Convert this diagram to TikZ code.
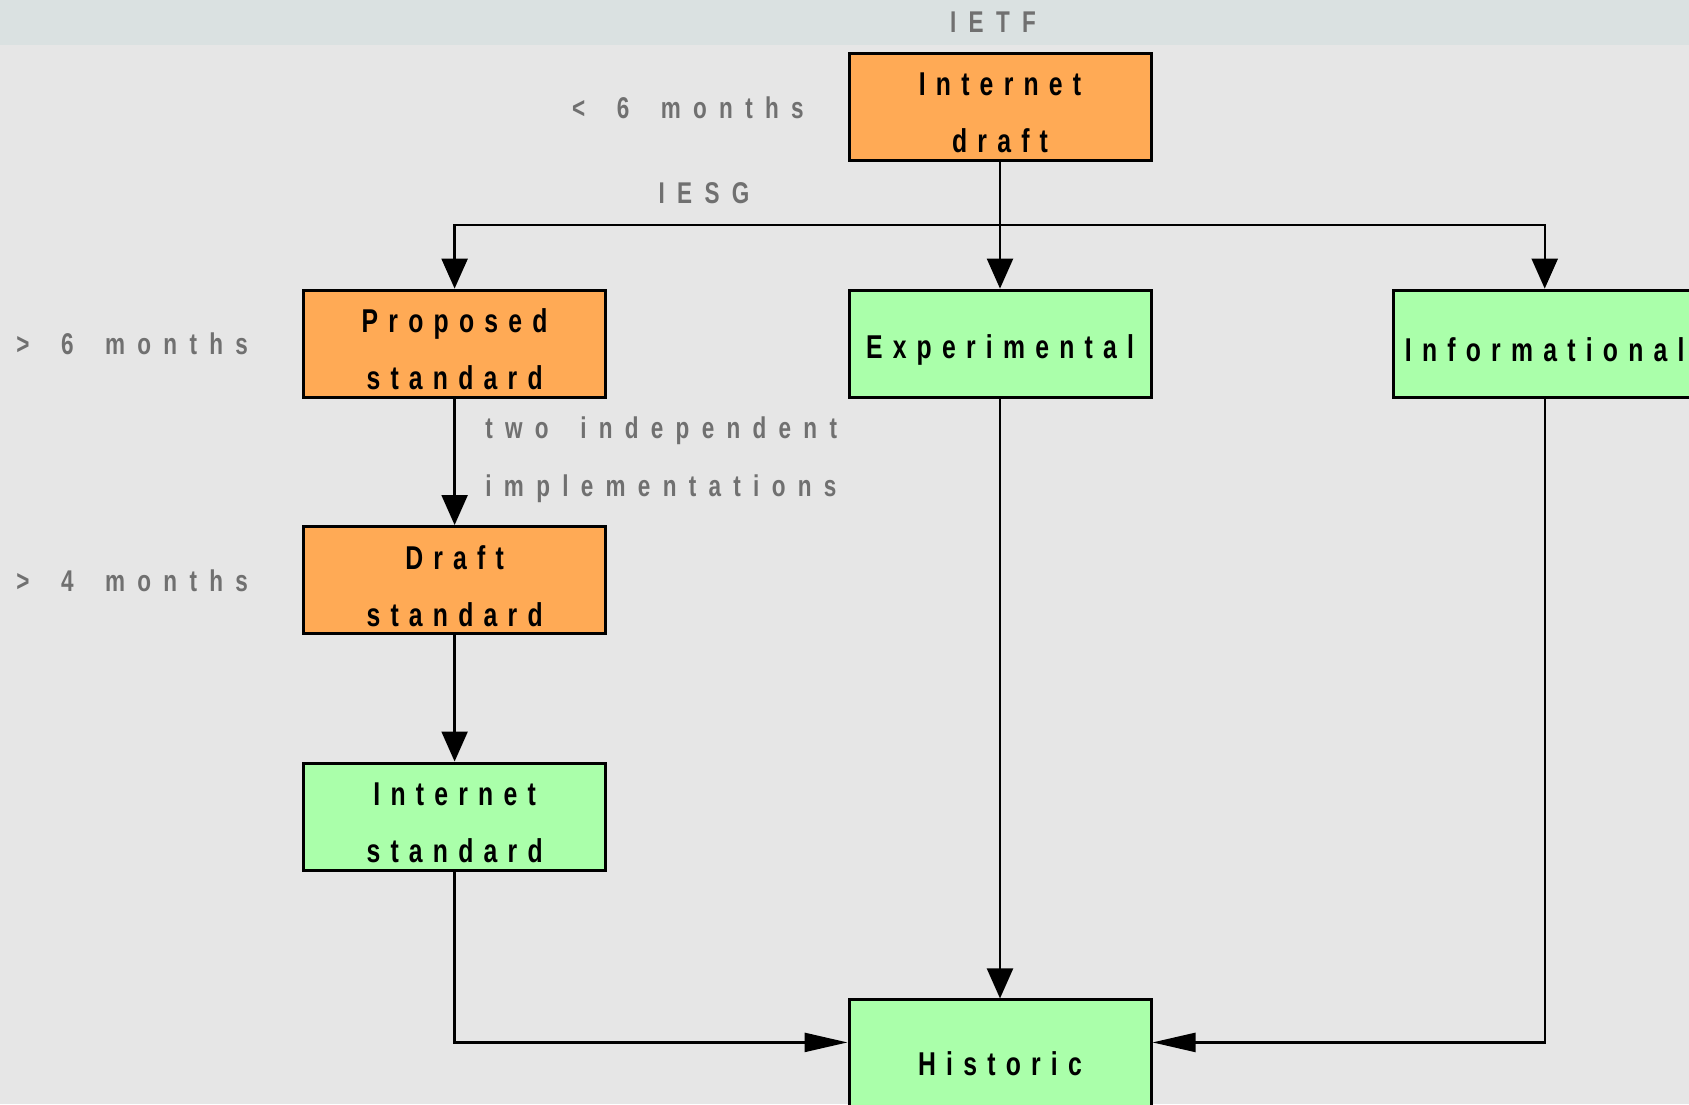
\documentclass[tikz,border=0pt]{standalone}
\usepackage{fontspec}
\newfontfamily\boxfont[FakeStretch=0.75,LetterSpace=31]{Liberation Sans}
\newfontfamily\notefont[FakeStretch=0.75,LetterSpace=41,WordSpace=1.7]{Liberation Sans}
\usetikzlibrary{arrows.meta}

\definecolor{bandgray}{HTML}{DAE1E1}
\definecolor{bggray}{HTML}{E6E6E6}
\definecolor{stdorange}{HTML}{FFAA55}
\definecolor{stdgreen}{HTML}{AAFFAA}
\definecolor{notegray}{HTML}{707070}

\tikzset{
    stdbox/.style={draw=black, line width=1.5pt, minimum width=151pt, minimum height=53.5pt, inner sep=0pt},
    boxtext/.style={inner sep=0pt, align=center, yshift=-3pt, font={\boxfont\bfseries\fontsize{16.5}{28.5}\selectfont}},
    note/.style={text=notegray, inner sep=0pt, font={\notefont\bfseries\fontsize{15}{29}\selectfont}},
    varrow/.style={line width=1.2pt, -{Triangle[length=15pt,width=13pt]}},
    harrow/.style={line width=1.2pt, -{Triangle[length=21.5pt,width=9.5pt]}}
}

\begin{document}
\begin{tikzpicture}[x=0.5pt, y=-0.5pt]
        \useasboundingbox (0,0) rectangle (1689,1104);
        \clip (0,0) rectangle (1689,1104);
        \fill[bggray] (0,0) rectangle (1689,1104);
        \fill[bandgray] (0,0) rectangle (1689,45);

        % standards track boxes
        \node[stdbox, fill=stdorange, label={[boxtext]center:{Internet\\draft}}] (idraft) at (1000,107) {};
        \node[stdbox, fill=stdorange, label={[boxtext]center:{Proposed\\standard}}] (propo) at (454.6,343.6) {};
        \node[stdbox, fill=stdgreen, label={[boxtext]center:{Experimental}}] (exper) at (1000,343.6) {};
        \node[stdbox, fill=stdgreen, label={[boxtext]center:{Informational}}] (info) at (1544.7,343.6) {};
        \node[stdbox, fill=stdorange, label={[boxtext]center:{Draft\\standard}}] (dstd) at (454.6,580) {};
        \node[stdbox, fill=stdgreen, label={[boxtext]center:{Internet\\standard}}] (istd) at (454.6,816.5) {};
        \node[stdbox, fill=stdgreen, label={[boxtext, yshift=-1.9pt]center:{Historic}}] (hist) at (1000,1053.4) {};

        % notes
        \node[note] (ietf) at (993,22) {IETF};
        \node[note, anchor=east] (lt6) at (804,108) {< 6 months};
        \node[note] (iesg) at (704,193) {IESG};
        \node[note, anchor=west] (gt6) at (16,344) {> 6 months};
        \node[note, anchor=west] (gt4) at (16,581) {> 4 months};
        \node[note, anchor=west, align=left] (impl) at (485,460) {two independent\\implementations};

        \coordinate (bus) at (1000,225);

        \draw[varrow] (idraft.south) |- (bus) -| (propo.north);
        \draw[varrow] (idraft.south) -- (exper.north);
        \draw[varrow] (bus) -| (info.north);
        \draw[varrow] (propo.south) -- (dstd.north);
        \draw[varrow] (dstd.south) -- (istd.north);
        \draw[varrow] (exper.south) -- (hist.north);
        \draw[harrow] (istd.south) |- ([yshift=5.5pt]hist.west);
        \draw[harrow] (info.south) |- ([yshift=5.5pt]hist.east);
\end{tikzpicture}
\end{document}
